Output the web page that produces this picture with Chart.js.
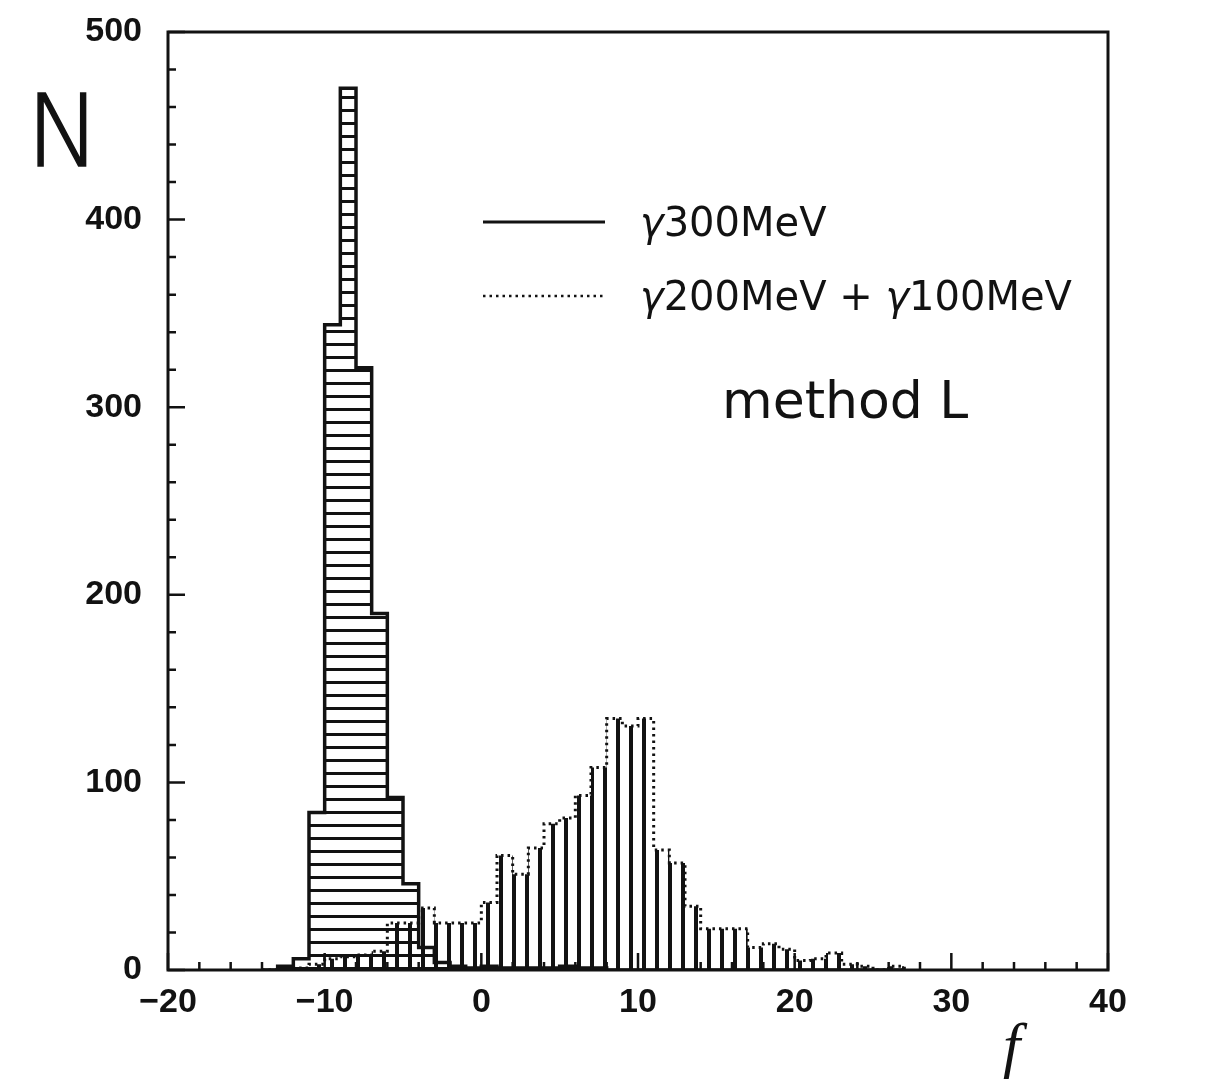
<!DOCTYPE html>
<html>
<head>
<meta charset="utf-8">
<script src="https://cdn.jsdelivr.net/npm/chart.js@4.4.1/dist/chart.umd.min.js"></script>
<style>
  html, body { margin: 0; padding: 0; background: #fff; }
  canvas { display: block; }
</style>
</head>
<body>
<canvas id="hist" width="1207" height="1083"></canvas>
<script>
// histogram bins of width 1 in f; the last edge closes the last bin
const binEdges = [-14, -13, -12, -11, -10, -9, -8, -7, -6, -5, -4, -3, -2, -1, 0,
  1, 2, 3, 4, 5, 6, 7, 8, 9, 10, 11, 12, 13, 14, 15, 16, 17, 18, 19, 20,
  21, 22, 23, 24, 25, 26, 27];

// gamma 300 MeV (solid, horizontal hatching)
const counts300 = [0, 2, 6, 84, 344, 470, 321, 190, 92, 46, 12, 4, 2, 1, 2,
  1, 1, 1, 1, 2, 1, 1, 0, 0, 0, 0, 0, 0, 0, 0, 0, 0, 0, 0, 0,
  0, 0, 0, 0, 0, 0];

// gamma 200 MeV + gamma 100 MeV (dotted, vertical hatching)
const counts200100 = [0, 0, 1, 3, 6, 7, 8, 10, 25, 25, 33, 25, 25, 25, 36,
  61, 51, 65, 78, 81, 93, 108, 134, 130, 134, 64, 57, 34, 22, 22, 22,
  12, 14, 11, 5, 6, 9, 3, 2, 0, 2];

const xTicks = [-20, -10, 0, 10, 20, 30, 40];
const yTicks = [0, 100, 200, 300, 400, 500];

const seriesLabels = ['300MeV', '200MeV + ', '100MeV'];

const canvas = document.getElementById('hist');
const ctx = canvas.getContext('2d');

// hatch fills
function hatch(horizontal) {
  const c = document.createElement('canvas');
  c.width = horizontal ? 8 : 13;
  c.height = horizontal ? 13 : 8;
  const g = c.getContext('2d');
  g.fillStyle = '#121212';
  if (horizontal) g.fillRect(0, 5, 8, 3);
  else g.fillRect(5, 0, 4, 8);
  return ctx.createPattern(c, 'repeat');
}

// points for a step outline: (left edge, count), closed down to zero
function stepPoints(counts) {
  const pts = [{ x: binEdges[0], y: 0 }];
  counts.forEach((c, i) => pts.push({ x: binEdges[i], y: c }));
  pts.push({ x: binEdges[counts.length], y: 0 });
  return pts;
}

const frame = {
  id: 'frame',
  afterDraw(chart) {
    const { chartArea: a, scales: { x, y } } = chart;
    const c = chart.ctx;
    c.save();
    c.strokeStyle = '#121212';
    c.lineWidth = 3;
    c.strokeRect(a.left, a.top, a.right - a.left, a.bottom - a.top);

    // ticks point inward
    c.lineWidth = 2.5;
    c.beginPath();
    for (let v = 0; v <= 500; v += 20) {
      const py = y.getPixelForValue(v);
      const len = v % 100 === 0 ? 17 : 8;
      c.moveTo(a.left, py);
      c.lineTo(a.left + len, py);
    }
    for (let v = -20; v <= 40; v += 2) {
      const px = x.getPixelForValue(v);
      const len = v % 10 === 0 ? 17 : 8;
      c.moveTo(px, a.bottom);
      c.lineTo(px, a.bottom - len);
    }
    c.stroke();

    // axis names
    c.fillStyle = '#121212';
    c.lineWidth = 1.5;
    c.font = '200 100px "DejaVu Sans"';
    c.fillText('N', 26, 166);
    c.strokeText('N', 26, 166);
    c.font = 'italic 62px "Liberation Serif"';
    c.fillText('f', 1003, 1066);

    // legend
    c.lineWidth = 3;
    c.beginPath();
    c.moveTo(483, 222);
    c.lineTo(605, 222);
    c.stroke();
    c.lineWidth = 2.5;
    c.setLineDash([2.5, 4]);
    c.beginPath();
    c.moveTo(483, 296);
    c.lineTo(605, 296);
    c.stroke();
    c.setLineDash([]);

    const gammaText = (parts, px, py) => {
      parts.forEach(p => {
        c.font = 'italic 40px "DejaVu Sans"';
        c.fillText('\u03b3', px, py);
        px += c.measureText('\u03b3').width;
        c.font = '40px "DejaVu Sans"';
        c.fillText(p, px, py);
        px += c.measureText(p).width;
      });
    };
    gammaText([seriesLabels[0]], 640, 236);
    gammaText([seriesLabels[1], seriesLabels[2]], 640, 310);

    c.font = '52px "DejaVu Sans"';
    c.fillText('method L', 722, 418);
    c.restore();
  }
};

new Chart(canvas, {
  type: 'line',
  data: {
    datasets: [
      {
        label: '\u03b3' + seriesLabels[0],
        data: stepPoints(counts300),
        stepped: 'before',
        borderColor: '#121212',
        borderWidth: 3.5,
        backgroundColor: hatch(true),
        fill: 'origin',
        pointRadius: 0
      },
      {
        label: '\u03b3' + seriesLabels[1] + '\u03b3' + seriesLabels[2],
        data: stepPoints(counts200100),
        stepped: 'before',
        borderColor: '#121212',
        borderWidth: 3,
        borderDash: [2.5, 4],
        backgroundColor: hatch(false),
        fill: 'origin',
        pointRadius: 0
      }
    ]
  },
  options: {
    responsive: false,
    animation: false,
    layout: { padding: { top: 32, right: 99, left: 0, bottom: 0 } },
    scales: {
      x: {
        type: 'linear',
        min: -20,
        max: 40,
        afterBuildTicks: s => { s.ticks = xTicks.map(v => ({ value: v })); },
        afterFit: s => { s.height = 113; s.paddingLeft = 0; s.paddingRight = 0; },
        grid: { display: false },
        border: { display: false },
        ticks: {
          padding: 4,
          color: '#121212',
          font: { family: 'Liberation Sans', weight: 'bold', size: 34 },
          callback: v => (v < 0 ? '\u2212' + Math.abs(v) : String(v))
        }
      },
      y: {
        min: 0,
        max: 500,
        afterBuildTicks: s => { s.ticks = yTicks.map(v => ({ value: v })); },
        afterFit: s => { s.width = 168; s.paddingTop = 0; s.paddingBottom = 0; },
        grid: { display: false },
        border: { display: false },
        ticks: {
          padding: 18,
          color: '#121212',
          font: { family: 'Liberation Sans', weight: 'bold', size: 34 }
        }
      }
    },
    plugins: {
      legend: { display: false },
      tooltip: { enabled: false }
    }
  },
  plugins: [frame]
});
</script>
</body>
</html>
